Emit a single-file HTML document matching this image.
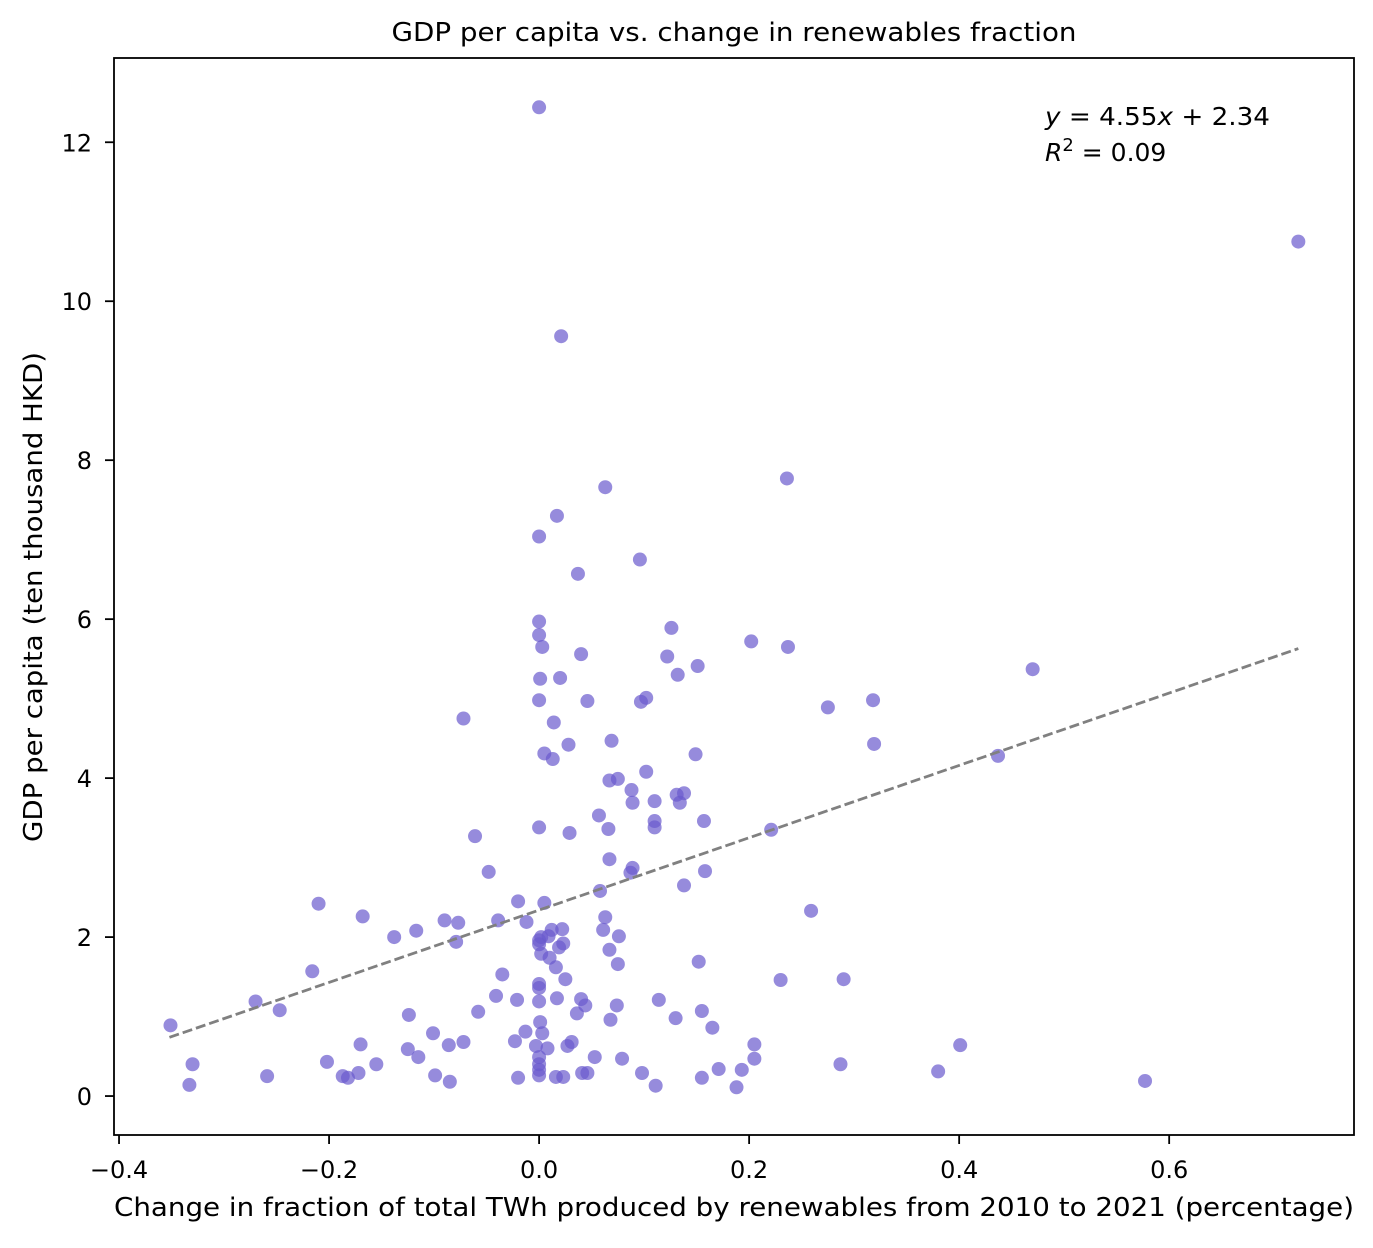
<!DOCTYPE html>
<html><head><meta charset="utf-8"><style>
body{margin:0;background:#fff;}
svg text{font-family:"DejaVu Sans","Liberation Sans",sans-serif;fill:#000;}
</style></head><body>
<svg id="chart" width="1373" height="1243" xmlns="http://www.w3.org/2000/svg">
<rect width="1373" height="1243" fill="#fff"/>
<text x="734" y="41" font-size="26" text-anchor="middle" textLength="685" lengthAdjust="spacingAndGlyphs">GDP per capita vs. change in renewables fraction</text>
<g id="marks"></g>
<g id="axes"></g>
<rect x="114" y="58" width="1240" height="1077" fill="none" stroke="#000" stroke-width="1.8"/>
<text x="734" y="1216" font-size="26" text-anchor="middle" textLength="1240" lengthAdjust="spacingAndGlyphs">Change in fraction of total TWh produced by renewables from 2010 to 2021 (percentage)</text>
<text transform="translate(42,597) rotate(-90)" font-size="26" text-anchor="middle" textLength="490" lengthAdjust="spacingAndGlyphs">GDP per capita (ten thousand HKD)</text>
<text x="1045" y="125" font-size="25" textLength="225" lengthAdjust="spacingAndGlyphs"><tspan font-style="italic">y</tspan> = 4.55<tspan font-style="italic">x</tspan> + 2.34</text>
<text x="1045" y="161" font-size="25"><tspan font-style="italic">R</tspan><tspan dy="-10" font-size="18">2</tspan><tspan dy="10"> = 0.09</tspan></text>
</svg>
<script>
const xVals=[0,0.723,0.021,0.236,0.063,0.017,0,0.096,0.037,0,0.126,0,0.202,0.003,0.237,0.04,0.122,0.151,0.470,0.132,0.020,0.001,0.102,0.318,0,0.046,0.097,0.275,-0.072,0.014,0.069,0.319,0.028,0.005,0.149,0.437,0.013,0.102,0.075,0.067,0.088,0.138,0.131,0.110,0.134,0.089,0.057,0.110,0.157,0.110,0,0.221,0.066,0.029,-0.061,0.067,0.089,0.158,-0.048,0.087,0.138,0.058,-0.020,0.005,-0.210,0.259,-0.168,0.063,-0.090,-0.039,-0.077,-0.012,-0.117,0.012,0.022,0.061,-0.138,0.009,0.076,0.002,0,0,-0.079,0.023,0.019,0.067,0.002,0.010,0.075,0.152,0.016,-0.216,-0.035,0.025,0.230,0.290,0,0,-0.041,0.017,-0.270,0,-0.021,0.114,0.040,0.044,0.074,-0.247,0.155,-0.058,0.036,-0.124,0.130,0.068,0.001,-0.351,0.165,-0.013,0.003,-0.101,-0.023,-0.072,0.031,-0.170,-0.086,0.401,0.205,0.027,-0.003,0.008,-0.125,-0.115,0.053,0,0.205,0.079,-0.202,-0.330,-0.155,0.287,0,0,0.171,0.193,0.380,-0.172,0.041,0.046,0.098,0,-0.099,-0.259,-0.187,-0.182,-0.020,0.016,0.023,0.155,0.577,-0.085,-0.333,0.111,0.188];
const yVals=[12.44,10.75,9.56,7.77,7.66,7.30,7.04,6.75,6.57,5.97,5.89,5.80,5.72,5.65,5.65,5.56,5.53,5.41,5.37,5.30,5.26,5.25,5.01,4.98,4.98,4.97,4.96,4.89,4.75,4.70,4.47,4.43,4.42,4.31,4.30,4.28,4.24,4.08,3.99,3.97,3.85,3.81,3.79,3.71,3.69,3.69,3.53,3.46,3.46,3.38,3.38,3.35,3.36,3.31,3.27,2.98,2.87,2.83,2.82,2.81,2.65,2.58,2.45,2.43,2.42,2.33,2.26,2.25,2.21,2.21,2.18,2.19,2.08,2.09,2.10,2.09,2.00,2.01,2.01,2.00,1.96,1.91,1.94,1.92,1.87,1.84,1.79,1.74,1.66,1.69,1.62,1.57,1.53,1.47,1.46,1.47,1.41,1.36,1.26,1.23,1.19,1.19,1.21,1.21,1.22,1.14,1.14,1.08,1.07,1.06,1.04,1.02,0.98,0.96,0.93,0.89,0.86,0.81,0.79,0.79,0.69,0.68,0.68,0.65,0.64,0.64,0.65,0.63,0.63,0.60,0.59,0.49,0.49,0.49,0.47,0.47,0.43,0.40,0.40,0.40,0.40,0.33,0.34,0.33,0.31,0.29,0.29,0.29,0.29,0.26,0.26,0.25,0.25,0.23,0.23,0.24,0.24,0.23,0.19,0.18,0.14,0.13,0.11];
const xTicks=[-0.4,-0.2,0.0,0.2,0.4,0.6];
const xTickLabels=["\u22120.4","\u22120.2","0.0","0.2","0.4","0.6"];
const yTicks=[0,2,4,6,8,10,12];
const yTickLabels=["0","2","4","6","8","10","12"];
const fitSlope=[4.55];
const fitIntercept=[2.34];
const fitRange=[-0.352,0.723];

const NS="http://www.w3.org/2000/svg";
const X0=114,X1=1354,Y0=1135,Y1=58;
const xMin=-0.4048,xMax=0.776,yMin=-0.49,yMax=13.06;
const sx=v=>X0+(v-xMin)/(xMax-xMin)*(X1-X0);
const sy=v=>Y0-(v-yMin)/(yMax-yMin)*(Y0-Y1);
function mk(t,a,p){const e=document.createElementNS(NS,t);for(const k in a)e.setAttribute(k,a[k]);p.appendChild(e);return e;}
const marks=document.getElementById('marks'),axes=document.getElementById('axes');
xVals.forEach((x,i)=>{
  const c=mk('circle',{cx:sx(x),cy:sy(yVals[i]),r:7,fill:'rgba(106,90,205,0.7)'},marks);
  
  
});
const ln=mk('line',{x1:sx(fitRange[0]),y1:sy(fitSlope[0]*fitRange[0]+fitIntercept[0]),x2:sx(fitRange[1]),y2:sy(fitSlope[0]*fitRange[1]+fitIntercept[0]),stroke:'#808080','stroke-width':2.8,'stroke-dasharray':'10,4'},marks);


xTicks.forEach((v,i)=>{
  const x=sx(v);
  const t=mk('line',{x1:x,x2:x,y1:Y0,y2:Y0+9,stroke:'#000','stroke-width':1.8},axes);
  
  
  const l=mk('text',{x:x,y:Y0+43,'font-size':24,'text-anchor':'middle'},axes);
  l.textContent=xTickLabels[i];
  
  
});
yTicks.forEach((v,i)=>{
  const y=sy(v);
  const t=mk('line',{x1:X0-9,x2:X0,y1:y,y2:y,stroke:'#000','stroke-width':1.8},axes);
  
  
  const l=mk('text',{x:X0-22,y:y+9,'font-size':24,'text-anchor':'end'},axes);
  l.textContent=yTickLabels[i];
  
  
});
</script>
</body></html>
